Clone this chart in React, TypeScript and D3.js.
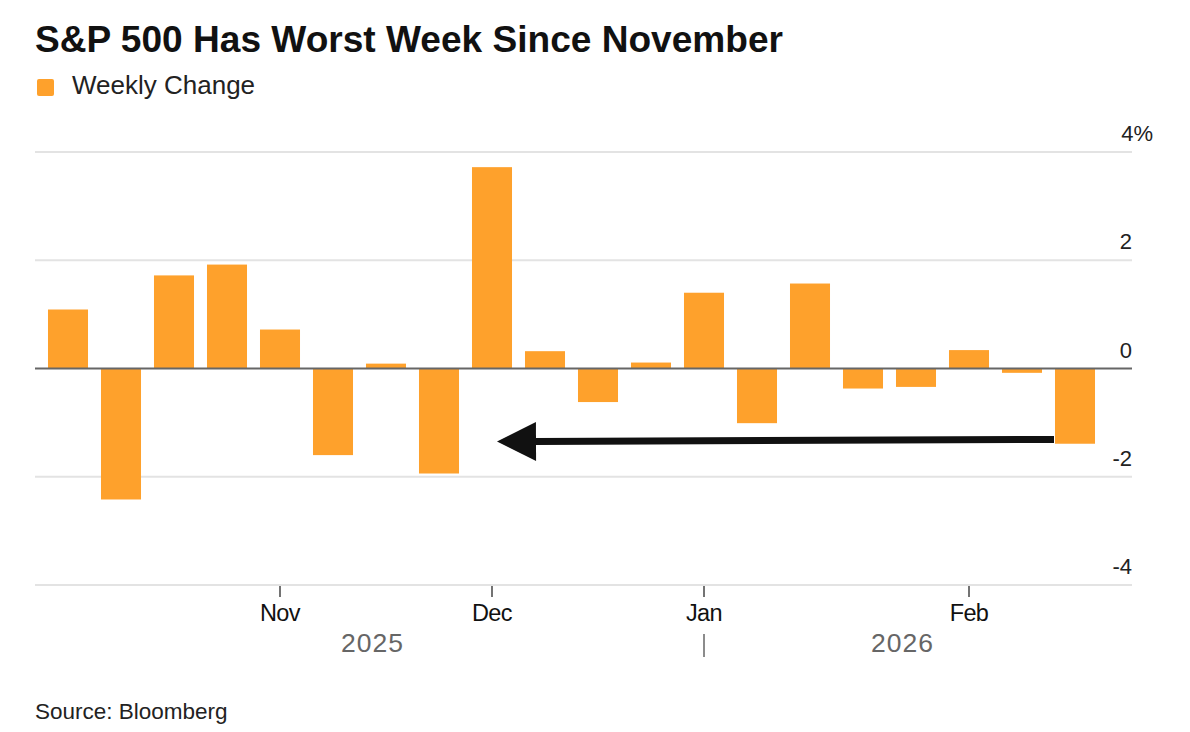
import React from "react";
import * as d3 from "d3";

const weeks = [
  "2025-10-03", "2025-10-10", "2025-10-17", "2025-10-24", "2025-10-31",
  "2025-11-07", "2025-11-14", "2025-11-21", "2025-11-28", "2025-12-05",
  "2025-12-12", "2025-12-19", "2025-12-26", "2026-01-02", "2026-01-09",
  "2026-01-16", "2026-01-23", "2026-01-30", "2026-02-06", "2026-02-13",
];
const weeklyChange = [
  1.09, -2.42, 1.72, 1.92, 0.72, -1.6, 0.09, -1.94, 3.72, 0.32,
  -0.62, 0.11, 1.4, -1.01, 1.57, -0.37, -0.34, 0.34, -0.08, -1.39,
];
const yTicks = [4, 2, 0, -2, -4];
const monthTicks = [
  { week: "2025-10-31", label: "Nov" },
  { week: "2025-11-28", label: "Dec" },
  { week: "2025-12-26", label: "Jan" },
  { week: "2026-01-30", label: "Feb" },
];
const yearLabels = [
  { from: "2025-10-03", to: "2025-12-19", label: "2025" },
  { from: "2025-12-26", to: "2026-02-13", label: "2026" },
];
const arrowFrom = { week: "2026-02-13", value: -1.31 };
const arrowTo = { week: "2025-11-28", value: -1.35 };

const W = 1190;
const H = 732;
const ORANGE = "#fea12c";
const FONT = "'Liberation Sans', Arial, Helvetica, sans-serif";

export default function App() {
  const x = d3
    .scaleBand<string>()
    .domain(weeks)
    .range([41.5, 1101.5])
    .paddingInner(0.245)
    .paddingOuter(0.1225);
  const y = d3.scaleLinear().domain([-4, 4]).range([585, 152]);
  const gridX0 = 35;
  const gridX1 = 1132;
  const bw = x.bandwidth();
  const cx = (w: string) => (x(w) as number) + bw / 2;

  const ax0 = cx(arrowFrom.week) - bw / 2 - 1;
  const ay0 = y(arrowFrom.value);
  const tipX = cx(arrowTo.week) + 5;
  const tipY = y(arrowTo.value);
  const headLen = 39;
  const headHalf = 19.5;
  const ang = Math.atan2(ay0 - tipY, ax0 - tipX);
  const bx = tipX + headLen * Math.cos(ang);
  const by = tipY + headLen * Math.sin(ang);
  const px = -Math.sin(ang) * headHalf;
  const py = Math.cos(ang) * headHalf;

  return (
    <svg
      width={W}
      height={H}
      style={{ position: "absolute", left: 0, top: 0, background: "#fff" }}
      fontFamily={FONT}
    >
      <rect width={W} height={H} fill="#fff" />
      <text
        x={35}
        y={52}
        fontSize={37}
        fontWeight="bold"
        fill="#111"
        textLength={748}
        lengthAdjust="spacingAndGlyphs"
      >
        S&amp;P 500 Has Worst Week Since November
      </text>
      <rect x={37} y={79} width={17} height={17} rx={2} fill={ORANGE} />
      <text x={72} y={94} fontSize={26} fill="#222">
        Weekly Change
      </text>

      {yTicks.map((t) => (
        <g key={t}>
          {t !== 0 && (
            <line
              x1={gridX0}
              x2={gridX1}
              y1={y(t)}
              y2={y(t)}
              stroke="#e3e3e3"
              strokeWidth={2}
            />
          )}
          <text
            x={t === 4 ? gridX1 + 21 : gridX1}
            y={y(t) - 11}
            fontSize={22}
            textAnchor="end"
            fill="#222"
          >
            {t === 4 ? "4%" : t < 0 ? `-${Math.abs(t)}` : `${t}`}
          </text>
        </g>
      ))}

      {weeks.map((w, i) => {
        const v = weeklyChange[i];
        return (
          <rect
            key={w}
            x={x(w)}
            y={Math.min(y(v), y(0))}
            width={bw}
            height={Math.abs(y(v) - y(0))}
            fill={ORANGE}
          />
        );
      })}

      <line x1={gridX0} x2={gridX1} y1={y(0)} y2={y(0)} stroke="#666" strokeWidth={2} />

      {monthTicks.map((m) => (
        <g key={m.label}>
          <line x1={cx(m.week)} x2={cx(m.week)} y1={586} y2={597} stroke="#444" strokeWidth={1.5} />
          <text x={cx(m.week)} y={621} fontSize={23.5} textAnchor="middle" fill="#111" letterSpacing={-0.6}>
            {m.label}
          </text>
        </g>
      ))}
      {yearLabels.map((yl) => (
        <text
          key={yl.label}
          x={((x(yl.from) as number) + (x(yl.to) as number) + bw) / 2 + 13}
          y={652}
          fontSize={26.5}
          textAnchor="middle"
          fill="#666"
          letterSpacing={1}
        >
          {yl.label}
        </text>
      ))}
      <line
        x1={cx(yearLabels[1].from)}
        x2={cx(yearLabels[1].from)}
        y1={634}
        y2={657}
        stroke="#666"
        strokeWidth={1.5}
      />

      <line x1={ax0} y1={ay0} x2={bx} y2={by} stroke="#111" strokeWidth={7} />
      <polygon
        points={`${tipX},${tipY} ${bx + px},${by + py} ${bx - px},${by - py}`}
        fill="#111"
      />

      <text x={35} y={719} fontSize={22.5} fill="#222">
        Source: Bloomberg
      </text>
    </svg>
  );
}
